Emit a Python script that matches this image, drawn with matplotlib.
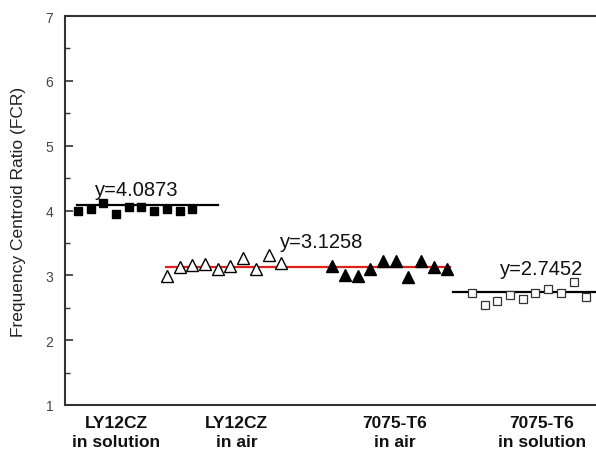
import matplotlib
matplotlib.use("Agg")
import matplotlib.pyplot as plt
from matplotlib.ticker import MultipleLocator

plt.rcParams["font.family"] = ["Liberation Sans", "DejaVu Sans"]

# measured FCR values, 10 specimens per condition
ly_sol_x = list(range(1, 11))
ly_sol_y = [3.99, 4.03, 4.11, 3.94, 4.06, 4.06, 3.99, 4.03, 3.99, 4.03]

ly_air_x = list(range(8, 18))
ly_air_y = [2.99, 3.13, 3.16, 3.18, 3.09, 3.14, 3.26, 3.10, 3.31, 3.19]

t6_air_x = list(range(21, 31))
t6_air_y = [3.15, 3.01, 2.99, 3.10, 3.22, 3.22, 2.97, 3.22, 3.13, 3.10]

t6_sol_x = list(range(32, 42))
t6_sol_y = [2.73, 2.54, 2.61, 2.70, 2.64, 2.72, 2.79, 2.73, 2.90, 2.66]

# mean lines: x span and value
fit_ly_sol_x = [0.9, 12.0]
fit_ly_sol = 4.0873
fit_air_x = [7.9, 30.3]
fit_air = 3.1258
fit_t6_sol_x = [30.5, 42.5]
fit_t6_sol = 2.7452

cat_labels = ["LY12CZ\nin solution", "LY12CZ\nin air", "7075-T6\nin air", "7075-T6\nin solution"]
cat_pos = [4.0, 13.5, 25.9, 37.5]

fig = plt.figure(figsize=(5.96, 4.52), dpi=100)
ax = fig.add_axes([64.5 / 596, 1 - 406 / 452, 1 - 64.5 / 596, 389 / 452])

ax.plot(fit_ly_sol_x, [fit_ly_sol] * 2, color="black", lw=1.6, zorder=2)
ax.plot(fit_air_x, [fit_air] * 2, color="#e0201b", lw=1.6, zorder=2)
ax.plot(fit_t6_sol_x, [fit_t6_sol] * 2, color="black", lw=1.6, zorder=2)

ax.plot(ly_sol_x, ly_sol_y, "s", ms=6.3, color="black", ls="none", zorder=3)
ax.plot(ly_air_x, ly_air_y, "^", ms=8.5, mfc="white", mec="black", mew=1.0, ls="none", zorder=3)
ax.plot(t6_air_x, t6_air_y, "^", ms=9, color="black", ls="none", zorder=3)
ax.plot(t6_sol_x, t6_sol_y, "s", ms=6, mfc="white", mec="#333333", mew=0.9, ls="none", zorder=3)

ax.text(5.6, 4.233, f"y={fit_ly_sol:.4f}", ha="center", va="baseline", fontsize=14.5, color="#111111")
ax.text(20.2, 3.441, f"y={fit_air:.4f}", ha="center", va="baseline", fontsize=14.5, color="#111111")
ax.text(37.5, 3.022, f"y={fit_t6_sol:.4f}", ha="center", va="baseline", fontsize=14.5, color="#111111")

ax.set_xlim(-0.05, 41.76)
ax.set_ylim(1, 7)
ax.yaxis.set_major_locator(MultipleLocator(1))
ax.yaxis.set_minor_locator(MultipleLocator(0.5))
ax.tick_params(axis="y", which="major", direction="in", length=6, width=1.2,
               pad=8, labelsize=10, labelcolor="#444444", color="#333333")
ax.tick_params(axis="y", which="minor", direction="in", length=3.5, width=1.0, color="#333333")
ax.set_xticks([])
for side in ["left", "top", "bottom"]:
    ax.spines[side].set_linewidth(1.5)
    ax.spines[side].set_color("#333333")
ax.spines["right"].set_visible(False)

ax.set_ylabel("Frequency Centroid Ratio (FCR)", fontsize=12.5, color="#222222")
ax.yaxis.set_label_coords(-0.073, 0.5)

for lab, xp in zip(cat_labels, cat_pos):
    ax.text(xp, -0.025, lab, transform=ax.get_xaxis_transform(), ha="center", va="top",
            fontsize=12.5, fontweight="bold", color="#111111", linespacing=1.35)

fig.savefig("out.png", dpi=100)
